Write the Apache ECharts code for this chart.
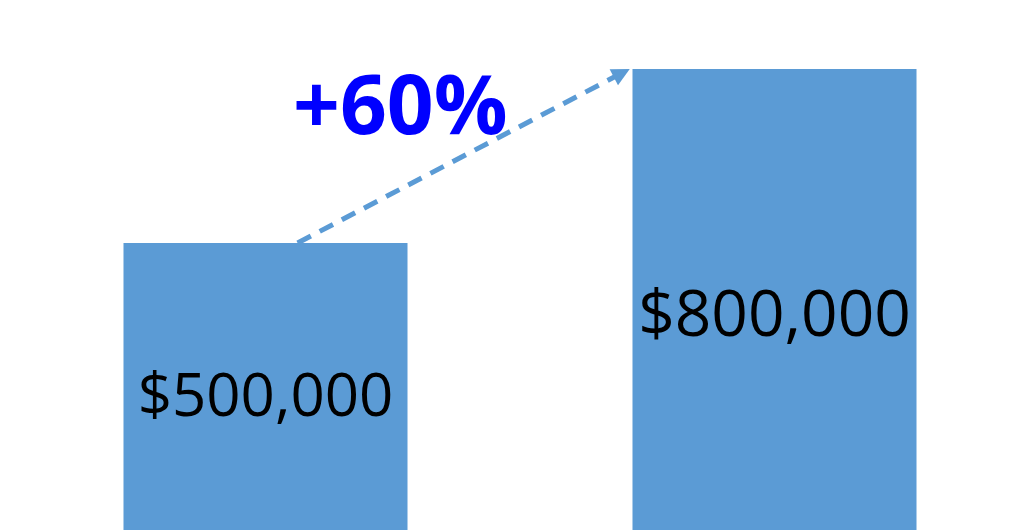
<!DOCTYPE html>
<html>
<head>
<meta charset="utf-8">
<script src="https://cdn.jsdelivr.net/npm/echarts@6/dist/echarts.min.js"></script>
<style>
  html, body { margin: 0; padding: 0; background: #fff; }
  #main { width: 1019px; height: 530px; }
</style>
</head>
<body>
<div id="main"></div>
<script>
// data
var categories = ['Before', 'After'];
var revenue = [500000, 800000];
var labelSizes = [60, 64];
var growthLabel = '+60%';
// arrow runs from top of first bar to the second bar (value-axis x: categories sit at 0.5 and 1.5)
var arrowFrom = [0.563, 500000];
var arrowTo = [1.2, 793000];

var barColor = '#5B9BD5';

function money(v) {
    return '$' + v.toString().replace(/\B(?=(\d{3})+(?!\d))/g, ',');
}

var chart = echarts.init(document.getElementById('main'));

var barData = revenue.map(function (v, i) {
    return {
        value: v,
        label: { fontSize: labelSizes[i], offset: [0, i === 0 ? 11 : 17] }
    };
});

var option = {
    animation: false,
    grid: { left: 11, width: 1018, top: 11, height: 522, outerBoundsMode: 'none' },
    xAxis: [
        { type: 'category', data: categories, show: false },
        { type: 'value', min: 0, max: 2, show: false }
    ],
    yAxis: { type: 'value', min: 0, max: 900000, show: false },
    series: [
        {
            type: 'bar',
            data: barData,
            barWidth: '55.8%',
            itemStyle: { color: barColor },
            label: {
                show: true,
                position: 'inside',
                formatter: function (p) { return money(p.value); },
                color: '#000',
                fontFamily: 'Open Sans'
            }
        },
        {
            // invisible carrier for the dashed arrow
            type: 'line',
            xAxisIndex: 1,
            data: [],
            markLine: {
                silent: true,
                symbol: ['none', 'triangle'],
                symbolSize: [18, 18],
                label: { show: false },
                lineStyle: { color: barColor, width: 5, type: [15, 10] },
                data: [[{ coord: arrowFrom }, { coord: arrowTo }]]
            }
        }
    ],
    graphic: [
        {
            type: 'text',
            left: 293,
            top: 70,
            style: {
                text: growthLabel,
                fill: '#0000FF',
                font: 'bold 82px "Open Sans"'
            }
        }
    ]
};

chart.setOption(option);
</script>
</body>
</html>
